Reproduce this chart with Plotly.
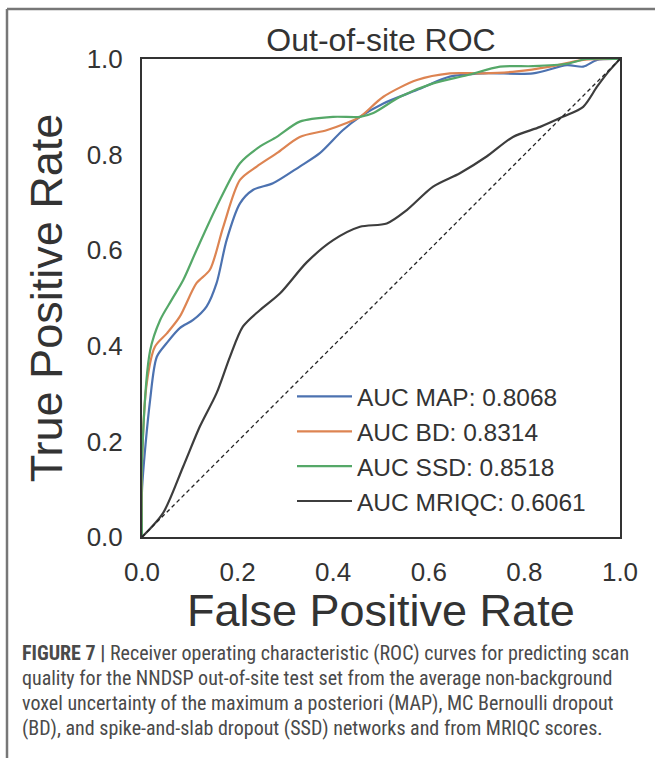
import plotly.graph_objects as go

# ---- data ----
map_fpr = [0.0, 0.0, 0.017, 0.031, 0.052, 0.079, 0.107, 0.135, 0.156, 0.177, 0.205, 0.232, 0.274, 0.33, 0.372, 0.42, 0.456, 0.505, 0.575, 0.644, 0.714, 0.818, 0.889, 0.923, 0.952, 1.0]
map_tpr = [0.0, 0.098, 0.287, 0.377, 0.406, 0.437, 0.454, 0.482, 0.531, 0.621, 0.698, 0.726, 0.74, 0.775, 0.803, 0.851, 0.879, 0.907, 0.935, 0.963, 0.97, 0.97, 0.987, 0.984, 0.998, 1.0]

bd_fpr = [0.0, 0.0, 0.01, 0.027, 0.052, 0.079, 0.114, 0.142, 0.17, 0.205, 0.24, 0.282, 0.33, 0.386, 0.428, 0.456, 0.505, 0.575, 0.644, 0.714, 0.784, 0.854, 0.923, 1.0]
bd_tpr = [0.0, 0.155, 0.322, 0.398, 0.426, 0.461, 0.531, 0.559, 0.649, 0.747, 0.775, 0.803, 0.837, 0.851, 0.866, 0.879, 0.921, 0.956, 0.97, 0.97, 0.974, 0.984, 0.998, 1.0]

ssd_fpr = [0.0, 0.0, 0.017, 0.038, 0.062, 0.086, 0.114, 0.156, 0.205, 0.247, 0.282, 0.33, 0.40, 0.456, 0.484, 0.54, 0.609, 0.68, 0.749, 0.818, 0.889, 0.93, 1.0]
ssd_tpr = [0.0, 0.16, 0.39, 0.454, 0.496, 0.537, 0.6, 0.691, 0.782, 0.817, 0.837, 0.869, 0.879, 0.879, 0.887, 0.921, 0.949, 0.966, 0.984, 0.985, 0.99, 1.0, 1.0]

mriqc_fpr = [0.0, 0.044, 0.086, 0.121, 0.156, 0.184, 0.211, 0.247, 0.289, 0.345, 0.40, 0.456, 0.512, 0.554, 0.609, 0.665, 0.721, 0.776, 0.833, 0.88, 0.923, 0.952, 0.973, 1.0]
mriqc_tpr = [0.0, 0.05, 0.147, 0.231, 0.301, 0.377, 0.44, 0.475, 0.51, 0.575, 0.621, 0.649, 0.656, 0.684, 0.733, 0.761, 0.796, 0.837, 0.858, 0.879, 0.9, 0.942, 0.97, 1.0]

chance = [0.0, 1.0]

labels = ["AUC MAP: 0.8068", "AUC BD: 0.8314", "AUC SSD: 0.8518", "AUC MRIQC: 0.6061"]
colors = ["#4C72B0", "#DD8452", "#55A868", "#3d3d3d"]

tick_vals = [0.0, 0.2, 0.4, 0.6, 0.8, 1.0]
tick_text = ["0.0", "0.2", "0.4", "0.6", "0.8", "1.0"]

caption_lines = [
    "<b>FIGURE 7 |</b> Receiver operating characteristic (ROC) curves for predicting scan",
    "quality for the NNDSP out-of-site test set from the average non-background",
    "voxel uncertainty of the maximum a posteriori (MAP), MC Bernoulli dropout",
    "(BD), and spike-and-slab dropout (SSD) networks and from MRIQC scores.",
]

W, H = 655, 758
L, R, T, B = 142, 620, 59, 537
pw, ph = R - L, B - T

def px(x):
    return (x - L) / pw

def py(y):
    return (B - y) / ph

FONT = "Liberation Sans, Arial, sans-serif"
TXT = "#333333"

fig = go.Figure()

series = [(map_fpr, map_tpr), (bd_fpr, bd_tpr), (ssd_fpr, ssd_tpr), (mriqc_fpr, mriqc_tpr)]
for i, ((xs, ys), lab, col) in enumerate(zip(series, labels, colors)):
    fig.add_trace(go.Scatter(
        x=xs, y=ys, mode="lines", name=lab, legendgroup=f"g{i}",
        line=dict(color=col, width=2.2, shape="spline", smoothing=0.8),
    ))

fig.add_trace(go.Scatter(
    x=chance, y=chance, mode="lines", showlegend=False,
    line=dict(color="#222222", width=1.3, dash="4px,3px"),
))

fig.update_layout(
    width=W, height=H, autosize=False,
    margin=dict(l=L, r=W - R, t=T, b=H - B),
    paper_bgcolor="white", plot_bgcolor="white",
    font=dict(family=FONT, color=TXT),
    title=dict(text="Out-of-site ROC", x=(L + R) / 2 / W, xanchor="center",
               y=1 - 40 / H, yanchor="middle", font=dict(size=32, color=TXT)),
    legend=dict(x=px(292), y=py(374), xanchor="left", yanchor="top",
                font=dict(size=24.5, color=TXT), bgcolor="rgba(0,0,0,0)",
                tracegroupgap=0, itemwidth=55),
    showlegend=True,
)

fig.update_xaxes(range=[0, 1], tickvals=tick_vals, ticktext=tick_text,
                 tickfont=dict(size=26, color=TXT), showgrid=False, zeroline=False,
                 showline=True, linecolor="#333333", linewidth=2, mirror=True,
                 ticks="", ticklabelstandoff=11)
fig.update_yaxes(range=[0, 1], tickvals=tick_vals, ticktext=tick_text,
                 tickfont=dict(size=26, color=TXT), showgrid=False, zeroline=False,
                 showline=True, linecolor="#333333", linewidth=2, mirror=True,
                 ticks="", ticklabelstandoff=12,
                 title=dict(text="True Positive Rate", font=dict(size=45, color=TXT), standoff=10))

# x-axis title placed as annotation for precise vertical position
fig.add_annotation(text="False Positive Rate", xref="paper", yref="paper",
                   x=0.5, y=py(610), xanchor="center", yanchor="middle", showarrow=False,
                   font=dict(size=45, color=TXT, family=FONT))

# outer figure frame (top and left edges)
fig.add_shape(type="line", xref="paper", yref="paper", x0=px(7), x1=px(655), y0=py(9), y1=py(9),
              line=dict(color="#777777", width=2.5))
fig.add_shape(type="line", xref="paper", yref="paper", x0=px(7), x1=px(7), y0=py(9), y1=py(758),
              line=dict(color="#777777", width=2.5))

caption_y = [653, 678, 703, 728]
for line, yy in zip(caption_lines, caption_y):
    fig.add_annotation(text=line, xref="paper", yref="paper", x=px(20), y=py(yy),
                       xanchor="left", yanchor="middle", showarrow=False,
                       font=dict(family="Liberation Sans Narrow, Roboto Condensed, Liberation Sans, sans-serif",
                                 size=20, color="#4a4a4a"))

fig.write_html("out.html", config={"displayModeBar": False},
               post_script="document.body.style.margin='0px';document.body.style.overflow='hidden';")
